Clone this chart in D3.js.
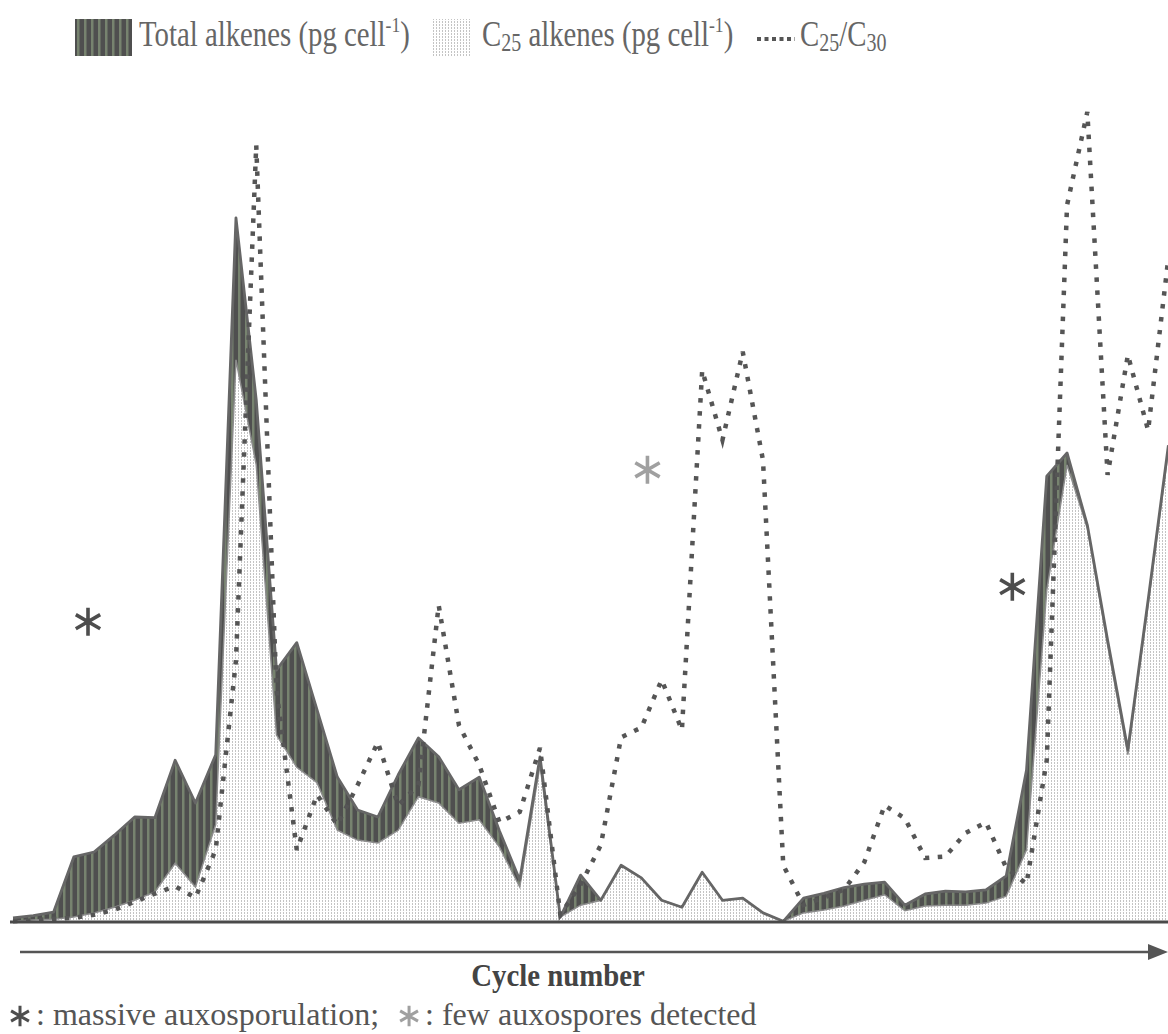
<!DOCTYPE html>
<html><head><meta charset="utf-8">
<script src="https://cdn.jsdelivr.net/npm/d3@7"></script>
<style>
html,body{margin:0;padding:0;background:#fff;}
svg{display:block;}
text{font-family:"Liberation Serif","Times New Roman",serif;}
</style></head><body>
<svg id="chart" width="1168" height="1034"></svg>
<script>
// Culture cycles (x axis, no tick labels drawn)
const cycles = [1,2,3,4,5,6,7,8,9,10,11,12,13,14,15,16,17,18,19,20,
  21,22,23,24,25,26,27,28,29,30,31,32,33,34,35,36,37,38,39,40,
  41,42,43,44,45,46,47,48,49,50,51,52,53,54,55,56,57,58];

// Total alkenes (pg cell-1)
const totalAlkenes = [0.06,0.09,0.14,0.93,1.00,1.24,1.50,1.49,2.31,1.70,
  2.39,10.06,7.46,3.60,3.99,3.03,2.07,1.60,1.50,2.10,
  2.63,2.36,1.89,2.07,1.30,0.60,2.36,0.07,0.67,0.31,
  0.81,0.63,0.31,0.21,0.71,0.31,0.34,0.13,0.01,0.34,
  0.41,0.49,0.54,0.57,0.24,0.40,0.44,0.43,0.46,0.66,
  2.17,6.37,6.70,5.67,4.03,2.46,4.60,6.81];

// C25 alkenes (pg cell-1)
const c25Alkenes = [0.01,0.03,0.04,0.07,0.13,0.21,0.31,0.43,0.84,0.50,
  1.39,8.03,6.53,2.67,2.21,1.99,1.31,1.17,1.13,1.31,
  1.79,1.70,1.41,1.46,1.07,0.50,2.24,0.07,0.24,0.31,
  0.81,0.63,0.31,0.21,0.71,0.31,0.34,0.13,0.01,0.13,
  0.17,0.23,0.31,0.39,0.16,0.23,0.24,0.24,0.27,0.37,
  1.03,4.74,6.53,5.63,3.96,2.39,4.53,6.74];

// C25/C30 ratio
const c25c30Ratio = [0.01,0.02,0.04,0.05,0.09,0.15,0.25,0.35,0.44,0.30,
  0.89,3.23,9.59,2.86,0.89,1.57,1.20,1.69,2.22,1.44,
  1.69,3.91,2.43,1.94,1.23,1.36,2.15,0.09,0.46,0.95,
  2.28,2.40,2.99,2.37,6.81,5.95,7.04,5.70,0.70,0.21,
  0.30,0.40,0.74,1.44,1.28,0.79,0.81,1.10,1.23,0.67,
  0.47,2.00,8.85,10.00,5.52,7.00,6.07,8.20];

// Auxosporulation events: cycle position, height (alkene units), kind
const auxoCycles = [4.7, 32.3, 50.3];
const auxoLevels = [4.29, 6.46, 4.79];
const auxoKinds  = ["massive", "few", "massive"];

const massiveColor = "#4d4d4d", fewColor = "#a0a0a0";

const svg = d3.select("#chart");
const defs = svg.append("defs");

// dark striped fill for total alkenes
const stripes = defs.append("pattern").attr("id","stripes")
  .attr("patternUnits","userSpaceOnUse").attr("width",7).attr("height",10);
stripes.append("rect").attr("width",7).attr("height",10).attr("fill","#4f4f4f");
stripes.append("rect").attr("x",0).attr("width",2.5).attr("height",10).attr("fill","#77836f");

// light stippled fill for C25 alkenes
const stipple = defs.append("pattern").attr("id","stipple")
  .attr("patternUnits","userSpaceOnUse").attr("width",3).attr("height",3);
stipple.append("rect").attr("width",3).attr("height",3).attr("fill","#ffffff");
stipple.append("rect").attr("x",1).attr("width",1).attr("height",2).attr("fill","#c4c4c4");

const x = d3.scaleLinear().domain([1,58]).range([13,1168.4]);
const y = d3.scaleLinear().domain([0,10]).range([922,222]);
const yr = d3.scaleLinear().domain([0,10]).range([922,112]);

const totalData = cycles.map((c,i)=>({c, v: totalAlkenes[i]}));
const c25Data = cycles.map((c,i)=>({c, v: c25Alkenes[i]}));
const ratioData = cycles.map((c,i)=>({c, v: c25c30Ratio[i]}));

const area = d3.area().x(d=>x(d.c)).y0(y(0)).y1(d=>y(d.v));
const line = d3.line().x(d=>x(d.c)).y(d=>y(d.v));
const rline = d3.line().x(d=>x(d.c)).y(d=>yr(d.v));

svg.append("path").datum(totalData).attr("d",area).attr("fill","url(#stripes)");
svg.append("path").datum(c25Data).attr("d",area).attr("fill","url(#stipple)");
svg.append("path").datum(c25Data).attr("d",line).attr("fill","none")
  .attr("stroke","#8c8c8c").attr("stroke-width",1.5);
svg.append("path").datum(totalData).attr("d",line).attr("fill","none")
  .attr("stroke","#666").attr("stroke-width",2.8).attr("stroke-linejoin","round");
svg.append("path").datum(ratioData).attr("d",rline).attr("fill","none")
  .attr("stroke","#555").attr("stroke-width",4.5).attr("stroke-dasharray","4.5 8.5");

// baseline of the plot
svg.append("line").attr("x1",10).attr("x2",1168).attr("y1",y(0)).attr("y2",y(0))
  .attr("stroke","#4a4a4a").attr("stroke-width",3);

// six-spoke asterisk marker
const star = (size) => d3.symbol(d3.symbolAsterisk, size)();

svg.selectAll("path.auxo").data(auxoCycles).join("path").attr("class","auxo")
  .attr("d", star(560))
  .attr("transform",(d,i)=>`translate(${x(d)},${y(auxoLevels[i])})`)
  .attr("fill","none").attr("stroke-width",3.6)
  .attr("stroke",(d,i)=>auxoKinds[i]==="massive" ? massiveColor : fewColor);

// cycle axis arrow
svg.append("line").attr("x1",20).attr("x2",1152).attr("y1",952).attr("y2",952)
  .attr("stroke","#555").attr("stroke-width",2.5);
svg.append("path").attr("d","M1148,944 L1168,952 L1148,960 Z").attr("fill","#555");
svg.append("text").attr("transform","translate(558,986) scale(0.9,1)")
  .attr("text-anchor","middle")
  .attr("font-size",32).attr("font-weight","bold").attr("fill","#444").text("Cycle number");

// footnote: marker + explanation, laid out from measured text widths
const noteY = 1025, noteSize = 32;
svg.append("path").attr("d",star(300)).attr("transform",`translate(20,${noteY-9})`)
  .attr("fill","none").attr("stroke",massiveColor).attr("stroke-width",3);
const n1 = svg.append("text").attr("x",36).attr("y",noteY)
  .attr("font-size",noteSize).attr("fill","#555").text(": massive auxosporulation;");
const w1 = n1.node().getComputedTextLength();
const star2X = 36 + w1 + 30;
svg.append("path").attr("d",star(300)).attr("transform",`translate(${star2X},${noteY-9})`)
  .attr("fill","none").attr("stroke",fewColor).attr("stroke-width",3);
svg.append("text").attr("x",star2X+16).attr("y",noteY)
  .attr("font-size",noteSize).attr("fill","#555").text(": few auxospores detected");

// legend
const lg = svg.append("g");
const legScale = 0.8;
lg.append("rect").attr("x",75).attr("y",19).attr("width",57).attr("height",37).attr("fill","url(#stripes)");
const t1 = lg.append("text").attr("transform",`translate(139,46) scale(${legScale},1)`)
  .attr("font-size",36).attr("fill","#666");
t1.append("tspan").text("Total alkenes (pg cell");
t1.append("tspan").attr("font-size",22).attr("dy",-14).text("-1");
t1.append("tspan").attr("dy",14).text(")");
lg.append("rect").attr("x",433).attr("y",19).attr("width",37).attr("height",37).attr("fill","url(#stipple)");
const t2 = lg.append("text").attr("transform",`translate(482,46) scale(${legScale},1)`)
  .attr("font-size",36).attr("fill","#666");
t2.append("tspan").text("C");
t2.append("tspan").attr("font-size",25).attr("dy",5).text("25");
t2.append("tspan").attr("dy",-5).text(" alkenes (pg cell");
t2.append("tspan").attr("font-size",22).attr("dy",-14).text("-1");
t2.append("tspan").attr("dy",14).text(")");
lg.append("line").attr("x1",757).attr("x2",795).attr("y1",39).attr("y2",39)
  .attr("stroke","#555").attr("stroke-width",4).attr("stroke-dasharray","4 3.5");
const t3 = lg.append("text").attr("transform",`translate(800,46) scale(${legScale},1)`)
  .attr("font-size",36).attr("fill","#666");
t3.append("tspan").text("C");
t3.append("tspan").attr("font-size",25).attr("dy",5).text("25");
t3.append("tspan").attr("dy",-5).text("/C");
t3.append("tspan").attr("font-size",25).attr("dy",5).text("30");
</script>
</body></html>
